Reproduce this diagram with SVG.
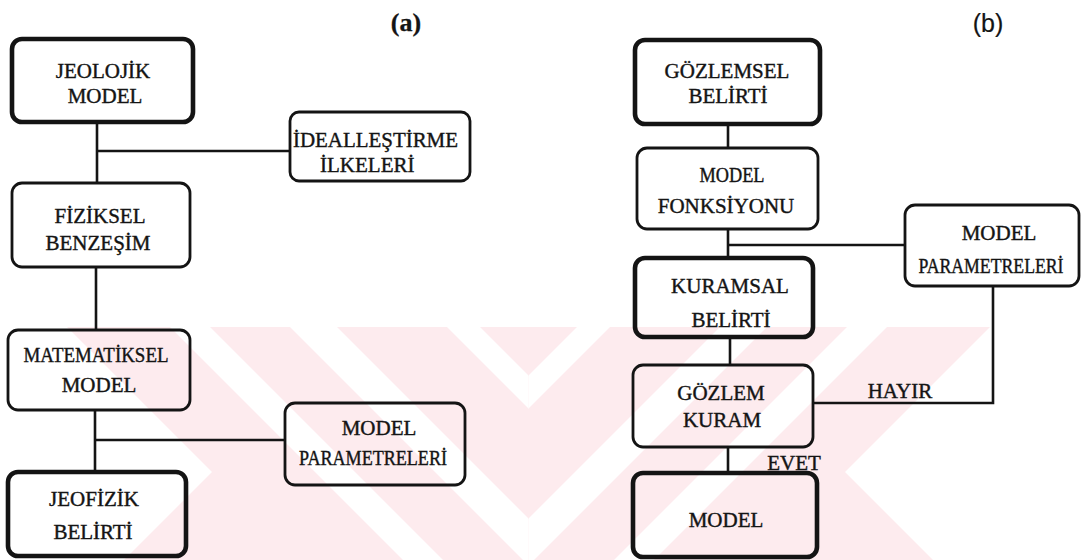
<svg xmlns="http://www.w3.org/2000/svg" width="1082" height="560" viewBox="0 0 1082 560">
<style>
.bg{fill:#ffffff}
.wm{fill:#fdebee}
.wh{fill:#ffffff}
.thick{fill:none;stroke:#141414;stroke-width:4.6}
.thin{fill:none;stroke:#141414;stroke-width:2.8}
.ln{fill:none;stroke:#141414;stroke-width:2.6}
.t{font-family:'Liberation Serif',serif;font-size:21px;fill:#141414;stroke:#141414;stroke-width:0.4;text-anchor:middle}
.s{text-anchor:start}
.ta{font-size:26px;font-weight:bold;stroke-width:0.3}
.tb{font-family:'Liberation Sans',sans-serif;font-size:25px;stroke-width:0.2}
</style>
<defs>
<clipPath id="cl"><rect x="0" y="327" width="528.5" height="233"/></clipPath>
<clipPath id="cr"><rect x="528.5" y="327" width="553.5" height="233"/></clipPath>
<clipPath id="cb"><rect x="0" y="327" width="1082" height="233"/></clipPath>
</defs>
<rect class="bg" x="0" y="0" width="1082" height="560"/>
<g id="watermark" clip-path="url(#cb)">
<polygon class="wm" points="67,327 990,327 845,472 933,560 124,560 212,472"/>
<g clip-path="url(#cl)">
<polygon class="wh" points="210,327 170,327 403,560 443,560"/>
<polygon class="wh" points="337,327 290,327 523,560 570,560"/>
<polygon class="wh" points="480,327 447,327 680,560 713,560"/>
</g>
<g clip-path="url(#cr)">
<polygon class="wh" points="847,327 887,327 654,560 614,560"/>
<polygon class="wh" points="720,327 767,327 534,560 487,560"/>
<polygon class="wh" points="577,327 610,327 377,560 344,560"/>
</g>
</g>
<g id="titles">
<text class="t ta" x="406" y="31">(a)</text>
<text class="t tb" x="988" y="32">(b)</text>
</g>
<g id="connectors">
<path class="ln" d="M97,122 V183 M97,151 H290"/>
<path class="ln" d="M96,267 V330"/>
<path class="ln" d="M95,410 V472 M95,440 H285"/>
<path class="ln" d="M728,124 V148"/>
<path class="ln" d="M728,229 V258 M728,245 H905"/>
<path class="ln" d="M730,337 V365"/>
<path class="ln" d="M813,403 H993 V286"/>
<path class="ln" d="M728,447 V473"/>
<text class="t" x="900" y="398">HAYIR</text>
<text class="t" x="794" y="470">EVET</text>
</g>
<g id="jeolojik-model">
<rect class="thick" x="12" y="39" width="181" height="83" rx="10"/>
<text class="t" x="103" y="78">JEOLOJİK</text>
<text class="t" x="105" y="103">MODEL</text>
</g>
<g id="ideallestirme">
<rect class="thin" x="290" y="112" width="180" height="69" rx="9"/>
<text class="t s" x="293" y="147" textLength="165" lengthAdjust="spacingAndGlyphs">İDEALLEŞTİRME</text>
<text class="t s" x="320" y="172">İLKELERİ</text>
</g>
<g id="fiziksel-benzesim">
<rect class="thin" x="12" y="183" width="178" height="84" rx="10"/>
<text class="t" x="100" y="223">FİZİKSEL</text>
<text class="t" x="98" y="250">BENZEŞİM</text>
</g>
<g id="matematiksel-model">
<rect class="thin" x="8" y="330" width="182" height="80" rx="10"/>
<text class="t" x="96" y="362" textLength="145" lengthAdjust="spacingAndGlyphs">MATEMATİKSEL</text>
<text class="t" x="99" y="392">MODEL</text>
</g>
<g id="model-parametreleri-a">
<rect class="thin" x="285" y="403" width="180" height="82" rx="10"/>
<text class="t" x="379" y="435">MODEL</text>
<text class="t" x="373" y="465" textLength="148" lengthAdjust="spacingAndGlyphs">PARAMETRELERİ</text>
</g>
<g id="jeofizik-belirti">
<rect class="thick" x="8" y="472" width="178" height="84" rx="10"/>
<text class="t" x="94" y="506">JEOFİZİK</text>
<text class="t" x="93" y="539">BELİRTİ</text>
</g>
<g id="gozlemsel-belirti">
<rect class="thick" x="635" y="40" width="185" height="84" rx="10"/>
<text class="t" x="727" y="78">GÖZLEMSEL</text>
<text class="t" x="728" y="103">BELİRTİ</text>
</g>
<g id="model-fonksiyonu">
<rect class="thin" x="637" y="148" width="181" height="81" rx="10"/>
<text class="t" x="732" y="182" textLength="65" lengthAdjust="spacingAndGlyphs">MODEL</text>
<text class="t" x="726" y="213">FONKSİYONU</text>
</g>
<g id="model-parametreleri-b">
<rect class="thin" x="905" y="205" width="174" height="81" rx="10"/>
<text class="t" x="999" y="240">MODEL</text>
<text class="t" x="991" y="273" textLength="145" lengthAdjust="spacingAndGlyphs">PARAMETRELERİ</text>
</g>
<g id="kuramsal-belirti">
<rect class="thick" x="635" y="258" width="178" height="79" rx="10"/>
<text class="t" x="730" y="293">KURAMSAL</text>
<text class="t" x="731" y="327">BELİRTİ</text>
</g>
<g id="gozlem-kuram">
<rect class="thin" x="633" y="365" width="180" height="82" rx="10"/>
<text class="t" x="721" y="400">GÖZLEM</text>
<text class="t" x="722" y="427">KURAM</text>
</g>
<g id="model">
<rect class="thick" x="633" y="473" width="184" height="84" rx="10"/>
<text class="t" x="726" y="527">MODEL</text>
</g>
</svg>
